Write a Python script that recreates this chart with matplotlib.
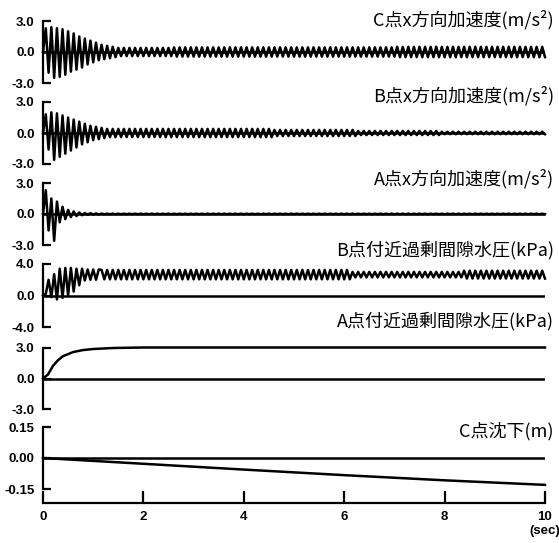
import numpy as np
import matplotlib
matplotlib.use("Agg")
import matplotlib.pyplot as plt

plt.rcParams['font.family'] = ['Liberation Sans', 'Noto Sans CJK JP', 'DejaVu Sans']

# half period of the oscillations (sec), read from the peak spacing (~9 Hz)
HALF = 1 / 18

# ---- values ----
# transient peaks one by one, then steady parts as (upper, lower, cycles)
c_acc_head = [2.3, -2.0, 2.4, -2.5, 2.3, -2.4, 2.2, -2.2, 2.0, -1.9, 1.8, -1.7, 1.5,
              -1.5, 1.3, -1.2, 1.1, -1.0, 0.9, -0.8, 0.7, -0.7, 0.6, -0.6, 0.5, -0.5]
c_acc_tail = [(0.4, -0.4, 10), (0.45, -0.45, 40), (0.5, -0.5, 27)]

b_acc_head = [1.8, -1.6, 2.0, -2.6, 1.9, -2.3, 1.7, -2.0, 1.5, -1.7, 1.3, -1.4,
              1.1, -1.1, 0.9, -0.9, 0.7, -0.7, 0.6, -0.6, 0.5, -0.5]
b_acc_tail = [(0.4, -0.4, 30), (0.3, -0.3, 15), (0.2, -0.2, 15), (0.12, -0.12, 19)]

a_acc_head = [2.3, -1.6, 1.5, -2.6, 1.2, -0.8, 0.7, -0.5, 0.4, -0.3, 0.25, -0.2,
              0.15, -0.12, 0.1, -0.08, 0.08, -0.05, 0.05, -0.04, 0.04, -0.03, 0.03, -0.02]
a_acc_tail = [(0.03, -0.02, 78)]

b_pore_head = [0.2, 2.0, -0.2, 2.7, -0.5, 3.4, -0.3, 3.5, 0.0, 3.5, 0.5, 3.4,
               1.3, 3.4, 1.9, 3.3, 2.0, 3.3, 2.0, 3.3]
b_pore_tail = [(3.25, 2.05, 45), (3.0, 2.3, 20), (3.15, 2.15, 15)]

a_pore_t = [0, 0.1, 0.2, 0.3, 0.4, 0.6, 0.8, 1.0, 1.4, 2.0, 3.0, 5.0, 10.0]
a_pore_v = [0, 0.4, 1.25, 1.8, 2.2, 2.6, 2.8, 2.9, 3.0, 3.05, 3.05, 3.05, 3.05]

c_settle_t = [0, 2, 4, 6, 8, 10]
c_settle_v = [0, -0.028, -0.056, -0.083, -0.108, -0.13]

titles = ["C点x方向加速度(m/s²)", "B点x方向加速度(m/s²)", "A点x方向加速度(m/s²)",
          "B点付近過剰間隙水圧(kPa)", "A点付近過剰間隙水圧(kPa)", "C点沈下(m)"]
ylims = [3.0, 3.0, 3.0, 4.0, 3.0, 0.15]
ytick_fmt = ["%.1f", "%.1f", "%.1f", "%.1f", "%.1f", "%.2f"]
xticks = [0, 2, 4, 6, 8, 10]


def zigzag(head, tail):
    v = list(head)
    for hi, lo, n in tail:
        v += [hi, lo] * n
    t = np.arange(len(v) + 1) * HALF
    return t, np.array([0.0] + v)


series = [zigzag(c_acc_head, c_acc_tail),
          zigzag(b_acc_head, b_acc_tail),
          zigzag(a_acc_head, a_acc_tail),
          zigzag(b_pore_head, b_pore_tail),
          (np.array(a_pore_t), np.array(a_pore_v)),
          (np.array(c_settle_t), np.array(c_settle_v))]

W, H = 559, 543
fig = plt.figure(figsize=(W / 100, H / 100), dpi=100)

# panel tops / bottoms in pixels (ymax / ymin)
tops = [21, 102, 183, 264, 348, 427]
bots = [83, 164, 245, 327, 409, 489]
title_y = [20, 96, 179, 250, 321, 431]
x0, x1 = 43, 545

for i in range(6):
    ax = fig.add_axes([x0 / W, 1 - bots[i] / H, (x1 - x0) / W, (bots[i] - tops[i]) / H])
    t, v = series[i]
    lim = ylims[i]
    ax.axhline(0, color='black', lw=1.8)
    ax.plot(t, v, color='black', lw=1.8, clip_on=False)
    ax.set_xlim(0, 10)
    ax.set_ylim(-lim, lim)
    for s in ['top', 'right']:
        ax.spines[s].set_visible(False)
    ax.spines['left'].set_linewidth(1.6)
    ax.set_yticks([-lim, 0, lim])
    ax.set_yticklabels([ytick_fmt[i] % y for y in [-lim, 0, lim]])
    ax.tick_params(axis='y', direction='in', length=6, width=1.6, pad=6,
                   labelsize=9.5)
    for lab in ax.get_yticklabels():
        lab.set_fontweight('bold')
    ax.patch.set_visible(False)
    fig.text(554 / W, 1 - title_y[i] / H, titles[i], ha='right', va='center',
             fontsize=13, family=['Noto Sans CJK JP', 'DejaVu Sans'])
    if i < 5:
        ax.spines['bottom'].set_visible(False)
        ax.set_xticks([])
    else:
        ax.spines['bottom'].set_position(('outward', 10))
        ax.spines['bottom'].set_linewidth(1.6)
        ax.set_xticks(xticks)
        ax.set_xticklabels([str(x) for x in xticks])
        ax.tick_params(axis='x', direction='in', length=9, width=1.6, pad=6,
                       labelsize=9.5)
        for lab in ax.get_xticklabels():
            lab.set_fontweight('bold')

fig.text(545 / W, 1 - 531 / H, "(sec)", ha='center', va='center',
         fontsize=9.5, fontweight='bold')

fig.savefig("out.png", dpi=100)
